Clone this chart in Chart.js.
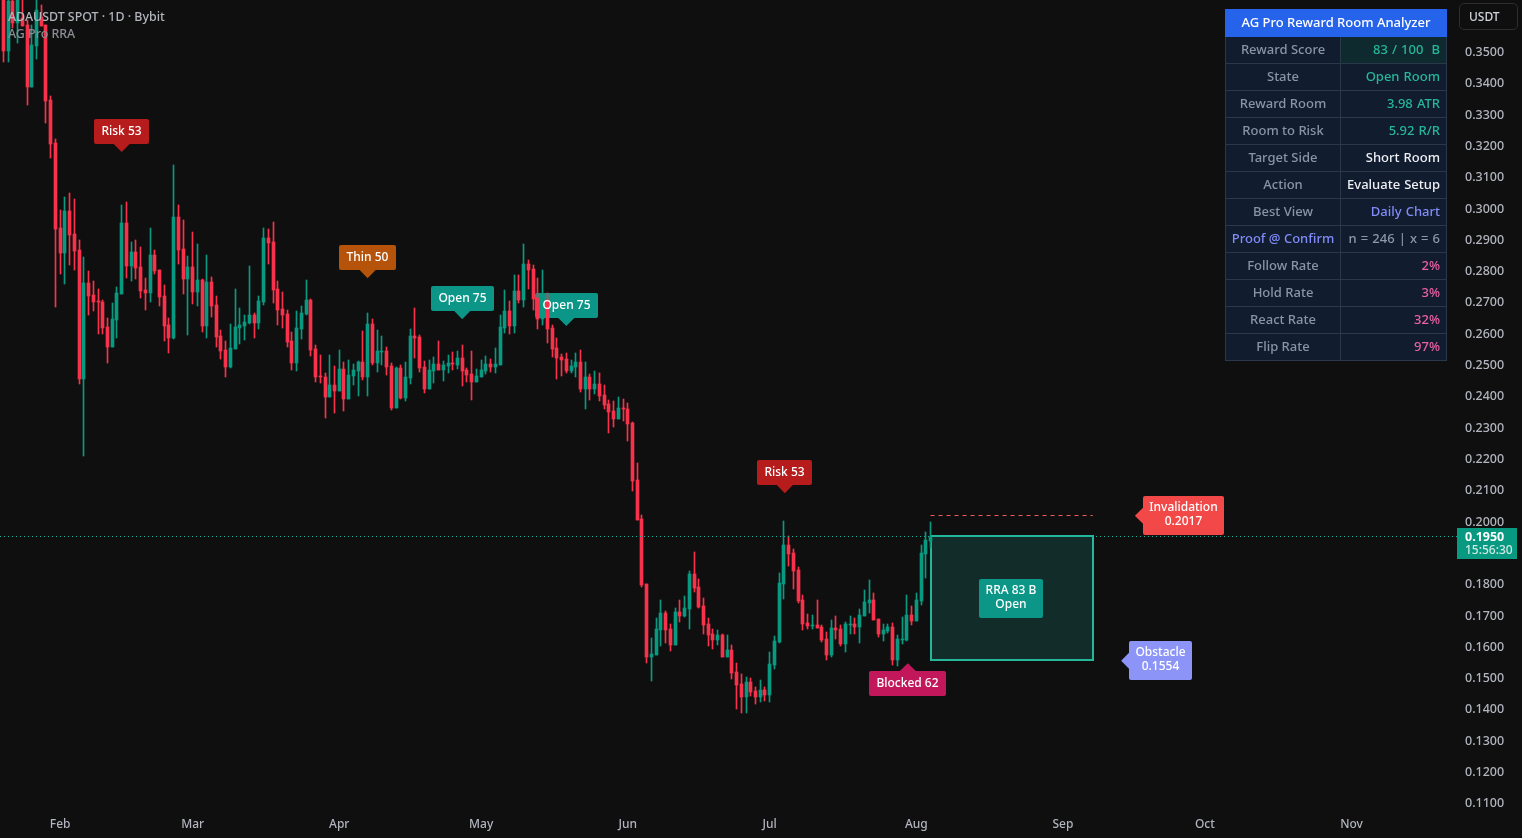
<!DOCTYPE html>
<html>
<head>
<meta charset="utf-8">
<title>ADAUSDT SPOT</title>
<script src="https://cdn.jsdelivr.net/npm/chart.js@4/dist/chart.umd.min.js"></script>
<style>
  html, body { margin: 0; padding: 0; background: #0f0f0f; overflow: hidden; }
  #wrap { position: relative; width: 1522px; height: 838px; font-family: "Noto Sans", sans-serif; font-weight: 500; }
  #chart { position: absolute; left: 0; top: 0; }
  #title { position: absolute; left: 8px; top: 8px; font-size: 12.4px; line-height: 17px; color: #b2b5be; white-space: nowrap; }
  #title div + div { color: #8b8e96; }
  #unit { position: absolute; left: 1459px; top: 3px; width: 59px; height: 27px; box-sizing: border-box; border: 1px solid #2e2e2e; border-radius: 5px;
    color: #d1d4dc; font-size: 12px; line-height: 26px; padding-left: 9px; }
  #panel { position: absolute; left: 1225px; top: 9px; width: 221px; border-collapse: collapse; table-layout: fixed; font-size: 13px; }
  #panel th { background: #2563eb; color: #fff; font-weight: 500; height: 24px; padding: 0 0 2px; border: 1px solid #2563eb; }
  #panel td { background: #111c2e; border: 1px solid #2b384b; height: 24px; padding: 0 6px 2px 0; text-align: right; white-space: pre; word-spacing: .7px; }
  #panel td.lbl { text-align: center; padding: 0 0 2px; color: #8a94a6; word-spacing: 0; }
</style>
</head>
<body>
<div id="wrap">
  <canvas id="chart" width="1522" height="838"></canvas>
  <div id="title"><div>ADAUSDT SPOT · 1D · Bybit</div><div>AG Pro RRA</div></div>
  <div id="unit">USDT</div>
  <table id="panel"></table>
</div>
<script>
const opens = [
  0.3720,0.3502,0.3661,0.3592,0.3606,0.3585,0.3388,0.3519,0.3611,0.3585,
  0.3345,0.3208,0.2936,0.2857,0.2990,0.2917,0.2866,0.2454,0.2760,0.2722,
  0.2703,0.2700,0.2620,0.2556,0.2642,0.2725,0.2952,0.2815,0.2859,0.2811,
  0.2738,0.2728,0.2850,0.2802,0.2719,0.2626,0.2585,0.2971,0.2869,0.2773,
  0.2811,0.2732,0.2770,0.2623,0.2764,0.2690,0.2591,0.2546,0.2492,0.2549,
  0.2617,0.2623,0.2633,0.2658,0.2633,0.2700,0.2904,0.2891,0.2741,0.2677,
  0.2661,0.2575,0.2505,0.2613,0.2661,0.2706,0.2549,0.2463,0.2460,0.2396,
  0.2435,0.2415,0.2486,0.2390,0.2463,0.2479,0.2508,0.2460,0.2629,0.2505,
  0.2540,0.2543,0.2495,0.2361,0.2489,0.2393,0.2457,0.2591,0.2588,0.2492,
  0.2422,0.2479,0.2502,0.2482,0.2495,0.2505,0.2498,0.2521,0.2482,0.2470,
  0.2444,0.2460,0.2479,0.2502,0.2492,0.2498,0.2617,0.2671,0.2623,0.2735,
  0.2706,0.2821,0.2805,0.2712,0.2645,0.2706,0.2617,0.2553,0.2524,0.2518,
  0.2479,0.2492,0.2508,0.2422,0.2460,0.2422,0.2438,0.2402,0.2374,0.2351,
  0.2326,0.2361,0.2358,0.2313,0.2131,0.2006,0.1799,0.1565,0.1572,0.1652,
  0.1706,0.1655,0.1604,0.1709,0.1696,0.1719,0.1831,0.1789,0.1728,0.1671,
  0.1639,0.1620,0.1636,0.1565,0.1588,0.1518,0.1479,0.1438,0.1486,0.1457,
  0.1438,0.1460,0.1444,0.1540,0.1613,0.1799,0.1923,0.1898,0.1843,0.1748,
  0.1674,0.1664,0.1668,0.1661,0.1623,0.1572,0.1658,0.1655,0.1607,0.1668,
  0.1671,0.1661,0.1696,0.1738,0.1748,0.1687,0.1639,0.1649,0.1661,0.1556,
  0.1620,0.1620,0.1700,0.1680,0.1744,0.1895,0.1936
];
const highs = [
  0.3760,0.3690,0.3720,0.3700,0.3670,0.3601,0.3585,0.3665,0.3649,0.3585,
  0.3358,0.3219,0.2994,0.3035,0.3048,0.3029,0.2898,0.2843,0.2799,0.2767,
  0.2741,0.2706,0.2648,0.2696,0.2748,0.3010,0.3019,0.2891,0.2898,0.2875,
  0.2776,0.2936,0.2866,0.2802,0.2754,0.2648,0.3137,0.3010,0.2962,0.2847,
  0.2923,0.2885,0.2773,0.2850,0.2780,0.2719,0.2610,0.2575,0.2629,0.2741,
  0.2681,0.2658,0.2815,0.2665,0.2719,0.2936,0.2933,0.2955,0.2767,0.2732,
  0.2674,0.2604,0.2671,0.2687,0.2770,0.2709,0.2562,0.2530,0.2473,0.2530,
  0.2495,0.2546,0.2508,0.2514,0.2502,0.2511,0.2607,0.2665,0.2645,0.2610,
  0.2591,0.2556,0.2505,0.2492,0.2498,0.2508,0.2613,0.2681,0.2594,0.2511,
  0.2514,0.2524,0.2575,0.2511,0.2530,0.2540,0.2543,0.2562,0.2489,0.2543,
  0.2486,0.2514,0.2527,0.2518,0.2553,0.2658,0.2738,0.2703,0.2786,0.2786,
  0.2885,0.2834,0.2818,0.2776,0.2802,0.2727,0.2626,0.2585,0.2534,0.2537,
  0.2514,0.2537,0.2546,0.2508,0.2470,0.2479,0.2473,0.2434,0.2387,0.2383,
  0.2396,0.2390,0.2377,0.2316,0.2185,0.2019,0.1799,0.1626,0.1690,0.1748,
  0.1712,0.1671,0.1722,0.1748,0.1760,0.1840,0.1901,0.1815,0.1754,0.1690,
  0.1655,0.1652,0.1639,0.1636,0.1604,0.1546,0.1511,0.1502,0.1498,0.1470,
  0.1492,0.1470,0.1581,0.1633,0.1834,0.2000,0.1952,0.1911,0.1853,0.1763,
  0.1703,0.1700,0.1748,0.1668,0.1645,0.1684,0.1696,0.1668,0.1677,0.1696,
  0.1690,0.1719,0.1779,0.1811,0.1770,0.1687,0.1671,0.1671,0.1674,0.1636,
  0.1693,0.1763,0.1728,0.1770,0.1923,0.1965,0.1997
];
const lows = [
  0.3467,0.3467,0.3574,0.3526,0.3581,0.3329,0.3388,0.3476,0.3581,0.3273,
  0.3161,0.2685,0.2789,0.2757,0.2818,0.2802,0.2438,0.2208,0.2658,0.2671,
  0.2597,0.2597,0.2505,0.2556,0.2585,0.2725,0.2776,0.2767,0.2773,0.2712,
  0.2674,0.2700,0.2789,0.2687,0.2575,0.2537,0.2581,0.2821,0.2725,0.2594,
  0.2693,0.2687,0.2604,0.2585,0.2652,0.2556,0.2517,0.2460,0.2489,0.2549,
  0.2566,0.2578,0.2629,0.2585,0.2613,0.2690,0.2821,0.2696,0.2626,0.2617,
  0.2556,0.2482,0.2479,0.2581,0.2658,0.2527,0.2444,0.2441,0.2329,0.2396,
  0.2345,0.2415,0.2351,0.2390,0.2435,0.2399,0.2450,0.2399,0.2498,0.2476,
  0.2498,0.2467,0.2355,0.2361,0.2390,0.2383,0.2438,0.2521,0.2476,0.2409,
  0.2422,0.2441,0.2482,0.2447,0.2473,0.2482,0.2486,0.2431,0.2444,0.2387,
  0.2444,0.2460,0.2470,0.2476,0.2473,0.2498,0.2601,0.2597,0.2601,0.2697,
  0.2684,0.2741,0.2674,0.2613,0.2626,0.2569,0.2524,0.2454,0.2463,0.2473,
  0.2473,0.2460,0.2412,0.2358,0.2387,0.2406,0.2383,0.2358,0.2281,0.2300,
  0.2326,0.2319,0.2256,0.2096,0.2003,0.1789,0.1546,0.1489,0.1572,0.1601,
  0.1610,0.1585,0.1604,0.1677,0.1693,0.1655,0.1773,0.1722,0.1639,0.1601,
  0.1591,0.1604,0.1565,0.1565,0.1495,0.1399,0.1387,0.1387,0.1441,0.1415,
  0.1422,0.1425,0.1422,0.1527,0.1610,0.1751,0.1856,0.1783,0.1738,0.1652,
  0.1655,0.1655,0.1658,0.1613,0.1556,0.1565,0.1623,0.1601,0.1581,0.1639,
  0.1639,0.1610,0.1696,0.1706,0.1684,0.1629,0.1617,0.1642,0.1540,0.1537,
  0.1607,0.1617,0.1668,0.1680,0.1732,0.1818,0.1914
];
const closes = [
  0.3502,0.3661,0.3592,0.3670,0.3581,0.3388,0.3521,0.3633,0.3581,0.3342,
  0.3204,0.2933,0.2857,0.2990,0.2914,0.2863,0.2454,0.2760,0.2719,0.2700,
  0.2700,0.2616,0.2556,0.2645,0.2728,0.2952,0.2815,0.2859,0.2808,0.2735,
  0.2728,0.2850,0.2799,0.2716,0.2623,0.2585,0.2971,0.2866,0.2773,0.2811,
  0.2732,0.2770,0.2623,0.2764,0.2687,0.2588,0.2543,0.2492,0.2553,0.2620,
  0.2626,0.2636,0.2658,0.2633,0.2703,0.2904,0.2888,0.2738,0.2674,0.2658,
  0.2572,0.2505,0.2617,0.2665,0.2706,0.2546,0.2460,0.2460,0.2396,0.2435,
  0.2415,0.2486,0.2390,0.2467,0.2482,0.2508,0.2460,0.2629,0.2505,0.2543,
  0.2543,0.2492,0.2361,0.2489,0.2393,0.2460,0.2591,0.2585,0.2489,0.2422,
  0.2482,0.2502,0.2482,0.2498,0.2505,0.2502,0.2521,0.2479,0.2466,0.2444,
  0.2463,0.2482,0.2502,0.2492,0.2502,0.2620,0.2671,0.2623,0.2735,0.2706,
  0.2821,0.2802,0.2709,0.2645,0.2709,0.2613,0.2550,0.2521,0.2514,0.2479,
  0.2495,0.2508,0.2422,0.2460,0.2422,0.2438,0.2399,0.2370,0.2348,0.2326,
  0.2361,0.2358,0.2310,0.2128,0.2003,0.1795,0.1565,0.1575,0.1655,0.1706,
  0.1652,0.1604,0.1709,0.1696,0.1722,0.1831,0.1786,0.1725,0.1668,0.1636,
  0.1620,0.1636,0.1565,0.1588,0.1514,0.1476,0.1438,0.1486,0.1454,0.1438,
  0.1460,0.1444,0.1543,0.1617,0.1802,0.1923,0.1895,0.1840,0.1744,0.1671,
  0.1664,0.1668,0.1658,0.1620,0.1572,0.1658,0.1652,0.1607,0.1671,0.1671,
  0.1661,0.1700,0.1741,0.1748,0.1684,0.1639,0.1652,0.1661,0.1556,0.1623,
  0.1623,0.1700,0.1680,0.1748,0.1898,0.1939,0.1950
];

const priceTicks = [0.35,0.34,0.33,0.32,0.31,0.30,0.29,0.28,0.27,0.26,0.25,0.24,0.23,0.22,0.21,0.20,0.19,0.18,0.17,0.16,0.15,0.14,0.13,0.12,0.11];
const monthTicks = [12,40,71,101,132,162,193,224,254,285];
const monthLabels = ["Feb","Mar","Apr","May","Jun","Jul","Aug","Sep","Oct","Nov"];

const lastPrice = 0.1950;
const countdown = "15:56:30";
const invalidation = 0.2017;
const obstacle = 0.1554;
const zoneStart = 196;
const zoneEnd = 230.3;

const panelLabels = ["Reward Score","State","Reward Room","Room to Risk","Target Side","Action","Best View","Proof @ Confirm","Follow Rate","Hold Rate","React Rate","Flip Rate"];
const panelValues = ["83 / 100  B","Open Room","3.98 ATR","5.92 R/R","Short Room","Evaluate Setup","Daily Chart","n = 246 | x = 6","2%","3%","32%","97%"];

const UP = "#089981", DOWN = "#f7324a", TEAL = "#26b79a", INDIGO = "#818cf8", PINK = "#ec5fa6";
const panelColors = [TEAL,TEAL,TEAL,TEAL,"#eef0f4","#eef0f4",INDIGO,"#8f98a8",PINK,PINK,PINK,PINK];

document.getElementById("panel").innerHTML =
  `<colgroup><col style="width:115px"><col style="width:106px"></colgroup><tr><th colspan="2">AG Pro Reward Room Analyzer</th></tr>` +
  panelLabels.map((l, i) => `<tr><td class="lbl"${l.startsWith("Proof") ? ` style="color:${INDIGO}"` : ""}>${l}</td><td style="color:${panelColors[i]}${i === 0 ? ";background:#0f2a2e" : ""}">${panelValues[i]}</td></tr>`).join("");

// markers: tip sits on (idx, price), arrow is the side of the box the tip comes out of
const markers = [
  { text: ["Risk 53"], idx: 25, price: 0.3179, arrow: "down", color: "#b71c1c" },
  { text: ["Thin 50"], idx: 77, price: 0.2776, arrow: "down", color: "#b45309" },
  { text: ["Open 75"], idx: 97, price: 0.2645, arrow: "down", color: "#0b9688" },
  { text: ["Open 75"], idx: 119, price: 0.2623, arrow: "down", color: "#0b9688" },
  { text: ["Risk 53"], idx: 165.2, price: 0.2089, arrow: "down", color: "#b71c1c" },
  { text: ["Blocked 62"], idx: 191.2, price: 0.1546, arrow: "up", color: "#c2185b" },
  { text: ["Invalidation", "0.2017"], idx: 239.2, price: invalidation, arrow: "left", color: "#f24848" },
  { text: ["Obstacle", "0.1554"], idx: 236.3, price: obstacle, arrow: "left", color: "#8c94f8" },
  { text: ["RRA 83 B", "Open"], idx: 213, price: (lastPrice + obstacle) / 2, arrow: "none", color: "#0b9688" },
];
const MARKER_FONT = '500 12px "Noto Sans", sans-serif';

function markerBox(ctx, m, chart) {
  const tx = chart.scales.x.getPixelForValue(m.idx), ty = chart.scales.y.getPixelForValue(m.price);
  ctx.font = MARKER_FONT;
  const w = Math.round(Math.max(...m.text.map((t) => ctx.measureText(t).width))) + (m.text.length > 1 ? 13 : 15);
  const h = m.text.length > 1 ? 39 : 25;
  let x = tx - w / 2, y = ty - h / 2;
  if (m.arrow === "down") y = ty - 8 - h;
  if (m.arrow === "up") y = ty + 8;
  if (m.arrow === "left") x = tx + 8;
  return { tx, ty, x: Math.round(x), y: Math.round(y), w, h };
}

const overlays = {
  id: "overlays",
  // snap candles and level lines to whole pixels, the way the original renders them
  afterDatasetsUpdate(chart) {
    chart.getSortedVisibleDatasetMetas().forEach((meta) => {
      meta.data.forEach((el) => {
        if (meta.type === "bar") {
          el.x = Math.floor(el.x) + 0.5;
          el.y = Math.round(el.y);
          el.base = Math.round(el.base);
        } else {
          el.y = Math.floor(el.y) + 0.5;
        }
      });
    });
  },
  beforeDatasetsDraw(chart) {
    const { ctx, scales: { x, y } } = chart;
    ctx.save();
    const left = Math.round(x.getPixelForValue(zoneStart)), right = Math.round(x.getPixelForValue(zoneEnd));
    const top = Math.floor(y.getPixelForValue(lastPrice)), bottom = Math.floor(y.getPixelForValue(obstacle));
    ctx.fillStyle = "#122c29";
    ctx.fillRect(left, top, right - left, bottom - top);
    ctx.strokeStyle = TEAL;
    ctx.lineWidth = 2;
    ctx.strokeRect(left, top, right - left, bottom - top);

    markers.forEach((m) => {
      const b = markerBox(ctx, m, chart);
      ctx.fillStyle = m.color;
      ctx.beginPath();
      ctx.roundRect(b.x, b.y, b.w, b.h, 2);
      ctx.fill();
      ctx.beginPath();
      if (m.arrow === "down") { ctx.moveTo(b.tx - 8, b.y + b.h); ctx.lineTo(b.tx + 8, b.y + b.h); ctx.lineTo(b.tx, b.ty); }
      if (m.arrow === "up") { ctx.moveTo(b.tx - 8, b.y); ctx.lineTo(b.tx + 8, b.y); ctx.lineTo(b.tx, b.ty); }
      if (m.arrow === "left") { ctx.moveTo(b.x, b.ty - 8); ctx.lineTo(b.x, b.ty + 8); ctx.lineTo(b.tx, b.ty); }
      ctx.fill();
    });
    ctx.restore();
  },
  afterDatasetsDraw(chart) {
    const { ctx } = chart;
    ctx.save();
    ctx.textAlign = "center";
    ctx.textBaseline = "middle";
    ctx.fillStyle = "#ffffff";
    markers.forEach((m) => {
      const b = markerBox(ctx, m, chart);
      m.text.forEach((t, i) => {
        ctx.fillText(t, b.x + b.w / 2, b.y + (m.text.length > 1 ? 12 + i * 14 : b.h / 2));
      });
    });
    ctx.restore();
  },
  afterDraw(chart) {
    const { ctx, scales: { y } } = chart;
    const py = Math.floor(y.getPixelForValue(lastPrice));
    ctx.save();
    ctx.fillStyle = UP;
    ctx.fillRect(1457, py - 8, 60, 31);
    ctx.textBaseline = "middle";
    ctx.textAlign = "left";
    ctx.fillStyle = "#ffffff";
    ctx.font = 'bold 12.5px "Noto Sans", sans-serif';
    ctx.fillText(lastPrice.toFixed(4), 1465, py + 1);
    ctx.fillStyle = "#cfe9e4";
    ctx.font = '500 12px "Noto Sans", sans-serif';
    ctx.fillText(countdown, 1465, py + 15);
    ctx.restore();
  },
};

const candleColors = closes.map((c, i) => (c >= opens[i] ? UP : DOWN));
const X_MIN = -0.72, X_MAX = 307.3;

new Chart(document.getElementById("chart"), {
  type: "bar",
  plugins: [overlays],
  data: {
    datasets: [
      {
        type: "line", order: 0, pointRadius: 0, borderWidth: 1, borderColor: "#12b89b", borderDash: [1, 3],
        data: [{ x: X_MIN, y: lastPrice }, { x: X_MAX, y: lastPrice }],
      },
      {
        type: "line", order: 0, pointRadius: 0, borderWidth: 1, borderColor: "#f05a5a", borderDash: [4, 4],
        data: [{ x: zoneStart, y: invalidation }, { x: zoneEnd, y: invalidation }],
      },
      {
        order: 1, grouped: false, barThickness: 3, backgroundColor: candleColors, borderSkipped: false,
        data: closes.map((c, i) => ({ x: i, y: [Math.min(opens[i], c), Math.max(opens[i], c)] })),
      },
      {
        order: 2, grouped: false, barThickness: 1, backgroundColor: candleColors, borderSkipped: false,
        data: highs.map((h, i) => ({ x: i, y: [lows[i], h] })),
      },
    ],
  },
  options: {
    responsive: false,
    animation: false,
    events: [],
    layout: { padding: 0, autoPadding: false },
    plugins: { legend: { display: false }, tooltip: { enabled: false } },
    scales: {
      x: {
        type: "linear", offset: false, min: X_MIN, max: X_MAX,
        grid: { display: false, drawTicks: false }, border: { display: false },
        afterBuildTicks: (axis) => { axis.ticks = monthTicks.map((v) => ({ value: v })); },
        afterFit: (axis) => { axis.height = 23; axis.paddingLeft = 0; axis.paddingRight = 0; },
        ticks: {
          color: "#b2b5be", font: { family: '"Noto Sans", sans-serif', size: 12, weight: 500 }, padding: 2, maxRotation: 0, autoSkip: false,
          callback: (v, i) => monthLabels[i],
        },
      },
      y: {
        position: "right", min: 0.1061, max: 0.36645,
        grid: { display: false, drawTicks: false }, border: { display: false },
        afterBuildTicks: (axis) => { axis.ticks = priceTicks.map((v) => ({ value: v })); },
        afterFit: (axis) => { axis.width = 65; axis.paddingTop = 0; axis.paddingBottom = 0; },
        ticks: {
          color: "#b2b5be", font: { family: '"Noto Sans", sans-serif', size: 12.5, weight: 500 }, padding: 8, labelOffset: 1, autoSkip: false,
          callback: (v) => Number(v).toFixed(4),
        },
      },
    },
  },
});
</script>
</body>
</html>
